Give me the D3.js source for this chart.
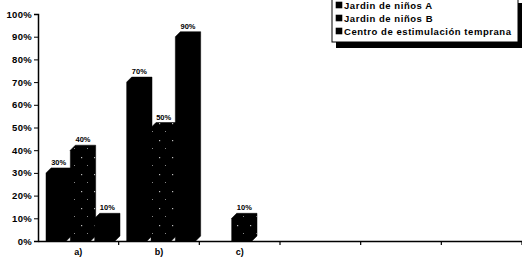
<!DOCTYPE html>
<html>
<head>
<meta charset="utf-8">
<script src="https://cdn.jsdelivr.net/npm/d3@7"></script>
<style>
  body { margin: 0; background: #fff; }
  text { font-family: "Liberation Sans", Arial, sans-serif; font-weight: bold; fill: #000; }
</style>
</head>
<body>
<script>
var categories = ["a", "b", "c", "d", "e", "f"];
var tickLabels = ["a)", "b)", "c)", "", "", ""];
var series = ["Jardin de niños A", "Jardin de niños B", "Centro de estimulación temprana"];
var jardinA = [0.30, 0.70, 0, null, null, null];
var jardinB = [0.40, 0.50, 0.10, null, null, null];
var centro = [0.10, 0.90, 0, null, null, null];
var yTicks = [0, 0.1, 0.2, 0.3, 0.4, 0.5, 0.6, 0.7, 0.8, 0.9, 1];

var width = 522, height = 257;
var margin = { top: 14, right: 0, bottom: 16, left: 38 };
var depth = 5;

var svg = d3.select("body").append("svg")
    .attr("width", width)
    .attr("height", height);

// sparse speckle pattern for series B
var defs = svg.append("defs");
var pat = defs.append("pattern")
    .attr("id", "speckle")
    .attr("patternUnits", "userSpaceOnUse")
    .attr("width", 13).attr("height", 17);
pat.append("rect").attr("width", 13).attr("height", 17).attr("fill", "#000");
pat.append("rect").attr("x", 3).attr("y", 4).attr("width", 1.2).attr("height", 1.2).attr("fill", "#bbb");
pat.append("rect").attr("x", 9).attr("y", 12).attr("width", 1).attr("height", 1).attr("fill", "#888");

var x = d3.scaleBand()
    .domain(categories)
    .range([margin.left, width - margin.right]);

var x1 = d3.scaleBand()
    .domain(series)
    .range([8, 81])
    .paddingInner(0);

var y = d3.scaleLinear()
    .domain([0, 1])
    .range([height - margin.bottom, margin.top]);

var fills = ["#000", "url(#speckle)", "#000"];
var values = [jardinA, jardinB, centro];

// axes
var yAxis = d3.axisLeft(y).tickValues(yTicks).tickFormat(d3.format(".0%")).tickSize(4).tickPadding(2);
var gy = svg.append("g")
    .attr("transform", "translate(" + margin.left + ",0)")
    .call(yAxis);
gy.select(".domain").attr("stroke-width", 1.5);
gy.selectAll("text").style("font-size", "9.5px").style("letter-spacing", "0.3px");

var xAxis = d3.axisBottom(x).tickSize(0).tickFormat(function (d, i) { return tickLabels[i]; });
var gx = svg.append("g")
    .attr("transform", "translate(0," + (height - margin.bottom) + ")")
    .call(xAxis);
gx.select(".domain").attr("stroke-width", 1.5);
gx.selectAll("text").attr("dy", "1.25em").style("font-size", "9px");

// category separator ticks
svg.append("g").selectAll("line")
    .data(categories)
    .enter().append("line")
    .attr("x1", function (d) { return x(d) + x.bandwidth(); })
    .attr("x2", function (d) { return x(d) + x.bandwidth(); })
    .attr("y1", height - margin.bottom)
    .attr("y2", height - margin.bottom + 4)
    .attr("stroke", "#000")
    .attr("stroke-width", 1.2);

// 3D bars, drawn series by series so later bars cover earlier ones
var bars = svg.append("g");
categories.forEach(function (cat, ci) {
    values.forEach(function (arr, si) {
        var v = arr[ci];
        if (v === null || v === 0) return;
        var x0 = x(cat) + x1(series[si]);
        var w = x1.bandwidth() - depth + 1;
        var y0 = y(v), yb = y(0);
        var g = bars.append("g");
        g.append("polygon")
            .attr("points", [
                [x0, yb], [x0, y0], [x0 + depth, y0 - depth], [x0 + w + depth, y0 - depth],
                [x0 + w + depth, yb - depth], [x0 + w, yb]
            ].map(function (p) { return p.join(","); }).join(" "))
            .attr("fill", fills[si])
            .attr("stroke", "#000")
            .attr("stroke-width", 0.5);
        g.append("text")
            .attr("x", x0 + w / 2 + depth / 2)
            .attr("y", y0 - depth - 3)
            .attr("text-anchor", "middle")
            .style("font-size", "7.5px")
            .text(d3.format(".0%")(v));
    });
});

// legend
var lg = svg.append("g").attr("transform", "translate(332,-1)");
lg.append("rect").attr("x", 4).attr("y", 4).attr("width", 186).attr("height", 45).attr("fill", "#000");
lg.append("rect").attr("x", 0).attr("y", 0).attr("width", 186).attr("height", 43)
    .attr("fill", "#fff").attr("stroke", "#000").attr("stroke-width", 1);
series.forEach(function (s, i) {
    lg.append("rect")
        .attr("x", 4).attr("y", 3 + i * 13)
        .attr("width", 6).attr("height", 6)
        .attr("fill", fills[i])
        .attr("stroke", "#000").attr("stroke-width", 0.6);
    lg.append("text")
        .attr("x", 12).attr("y", 9.5 + i * 13)
        .style("font-size", "9.5px")
        .style("letter-spacing", "0.55px")
        .text(s);
});
</script>
</body>
</html>
